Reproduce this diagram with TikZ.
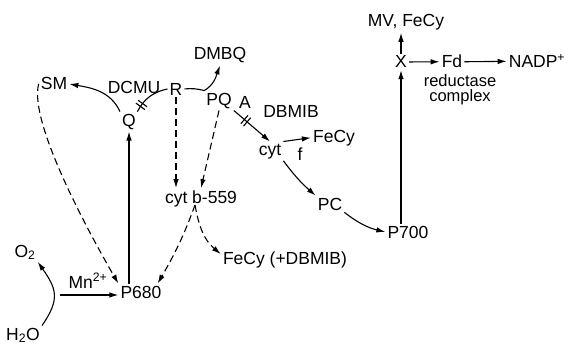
\documentclass[tikz,border=0pt]{standalone}
\usepackage{fontspec}
\setmainfont{Liberation Sans}
\usepackage{tikz}
\usetikzlibrary{arrows.meta, positioning, decorations.markings}

\begin{document}
\begin{tikzpicture}[
        x=1pt, y=1pt,
        txt/.style={anchor=base, inner sep=2pt, font=\fontsize{17.5}{20}\selectfont},
        arr/.style={-{Latex[length=9pt, width=5.5pt]}, line width=1.1pt},
        darr/.style={arr, dash pattern=on 7pt off 4pt},
        blocked/.style={postaction={decorate, decoration={markings,
            mark=at position #1 with {\draw[solid, -, line width=1.1pt]
                (-1.8pt,-5.5pt) -- (-1.8pt,5.5pt) (1.8pt,-5.5pt) -- (1.8pt,5.5pt);}}}}
    ]
        \useasboundingbox (0,0) rectangle (569,346);

        \node[txt] (H2O) at (23,6) {H\textsubscript{2}O};
        \node[txt] (O2) at (25,89) {O\textsubscript{2}};
        \node[txt] (Mn) at (88,58) {Mn\textsuperscript{2+}};
        \node[txt] (P680) at (141,48) {P680};
        \node[txt] (Q) at (129,220) {Q};
        \node[txt] (SM) at (54,256) {SM};
        \node[txt] (DCMU) at (134,253) {DCMU};
        \node[txt] (R) at (176,251) {R};
        \node[txt] (PQ) at (219,241) {PQ};
        \node[txt] (DMBQ) at (220,286) {DMBQ};
        \node[txt] (cytb) at (201,143) {cyt b-559};
        \node[txt] (FeCyb) at (285,82) {FeCy (+DBMIB)};
        \node[txt] (A) at (245,238) {A};
        \node[txt] (DBMIB) at (291,229) {DBMIB};
        \node[txt] (cytf) at (270,191) {cyt};
        \node[txt] (f) at (300,186) {f};
        \node[txt] (FeCyf) at (334,204) {FeCy};
        \node[txt] (PC) at (330,136) {PC};
        \node[txt] (P700) at (408,108) {P700};
        \node[txt] (X) at (401,278) {X};
        \node[txt] (MV) at (406,319) {MV, FeCy};
        \node[txt] (Fd) at (452,278) {Fd};
        \node[txt] (NADP) at (537,278) {NADP\textsuperscript{+}};
        \node[txt, anchor=center, align=center, inner sep=1pt, font=\fontsize{16.5}{15}\selectfont] (redc) at (460,256) {reductase\\complex};

        \coordinate (mnin) at (60,51);
        \coordinate (bfoot) at ([xshift=-6pt, yshift=-2pt]cytb.base);

        \draw[arr] (mnin) -- (mnin -| P680.west);
        \draw[arr] (H2O.north east) to[out=55, in=-55, looseness=1.3] (O2.south east);
        \draw[arr] (P680.north -| Q.south) -- (Q.south);
        \draw[arr] (Q.north west) to[out=115, in=-10] (SM.east);
        \draw[darr] (SM.west) to[out=255, in=120, looseness=0.5] (P680.north west);
        \draw[line width=1.1pt, blocked=0.2] (Q.50) to[bend left=25] (R.west);
        \draw[line width=1.1pt] (R.east) to[bend left=10] (PQ.north west);
        \draw[arr] (PQ.north west) to[out=30, in=-110] (DMBQ.south);
        \draw[arr, blocked=0.33] (PQ.south east) -- (cytf.north);
        \draw[arr] (cytf.north east) -- (FeCyf.west);
        \draw[arr] (cytf.south east) to[bend right=6] (PC.north west);
        \draw[arr] (PC.south east) to[bend right=12] (P700.west);
        \draw[arr] (P700.north -| X.south) -- (X.south);
        \draw[arr] (X.north) -- (X.north |- MV.south);
        \draw[arr] (X.east) -- (Fd.west);
        \draw[arr] (Fd.east) -- (NADP.west);
        \draw[darr] (R.south) -- (R.south |- cytb.north);
        \draw[darr] (PQ.south) -- (cytb.north);
        \draw[darr] (bfoot) to[out=250, in=60] ([xshift=-6pt]P680.north east);
        \draw[darr] (bfoot) to[out=-80, in=140] ([yshift=-5pt]FeCyb.north west);
    \end{tikzpicture}
\end{document}
